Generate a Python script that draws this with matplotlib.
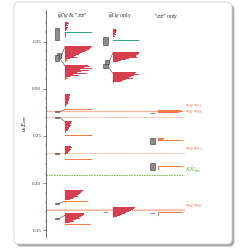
import matplotlib
matplotlib.use("Agg")
import matplotlib.pyplot as plt
from matplotlib.patches import FancyBboxPatch, Rectangle
from matplotlib.ticker import MultipleLocator

plt.rcParams['font.family'] = ['Liberation Serif', 'DejaVu Serif']
plt.rcParams['mathtext.fontset'] = 'stix'

# column headers
headers = [r'$\bar{\psi}\Gamma\psi$ & "$\pi\pi$"', r'$\bar{\psi}\Gamma\psi$ only', r'"$\pi\pi$" only']

# energy levels (a_t E_cm) and errors for each operator basis
col1_E = [0.3578, 0.3350, 0.3325, 0.2757, 0.2697, 0.2315, 0.1788, 0.1629]
col1_err = [0.0067, 0.0028, 0.0028, 0.0003, 0.0003, 0.0003, 0.0003, 0.0003]
col2_E = [0.3504, 0.3285, 0.3240, 0.1696]
col2_err = [0.0046, 0.0020, 0.0023, 0.0003]
col3_E = [0.2743, 0.2446, 0.2175, 0.1685]
col3_err = [0.0004, 0.0033, 0.0037, 0.0003]

# thresholds
thr_E = [0.2767, 0.2704, 0.2315, 0.1714]
thr_labels = [r'$\pi_{110}\,\pi_{011}$', r'$\pi_{001}\,\pi_{000}$',
              r'$\pi_{010}\,\pi_{011}$', r'$\pi_{000}\,\pi_{001}$']
kk_E = 0.2085

# operator overlap histograms: r = psibar Gamma psi, o = pi pi, g = K Kbar, '-' = gap
hist_col = [1, 1, 1, 1, 1, 1, 1, 1, 2, 2, 2, 2, 3, 3, 3, 3]
hist_level = [0, 1, 2, 3, 4, 5, 6, 7, 0, 1, 2, 3, 0, 1, 2, 3]
hist_kinds = [
    "rrrrrrrrr-grrrr",
    "rrrrrrrrrrrrrooo",
    "rrrrrrrrrrrrooo",
    "rrrrrrrrrrrgg--o",
    "rrrrrrrrrgg--o",
    "rrrrrrrrg----o",
    "rrrrrrrrrr-oo",
    "rrrrrrrrrr-o",
    "rrrrrrrr---g",
    "rrrrrrrrrr",
    "rrrrrrrrrrg",
    "rrrrrrrrrr",
    "ooo",
    "ooo",
    "oooo",
    "oooo",
]
hist_w = [
    [0.10, 0.14, 0.08, 0.12, 0.05, 0.10, 0.06, 0.08, 0.05, 0, 1.00, 0.04, 0.05, 0.03, 0.03],
    [1.00, 0.97, 0.93, 0.88, 0.82, 0.75, 0.62, 0.55, 0.50, 0.42, 0.32, 0.45, 0.20, 0.06, 0.10, 0.05],
    [0.85, 0.92, 0.70, 1.00, 0.55, 0.90, 0.60, 0.45, 0.80, 0.30, 0.50, 0.20, 0.08, 0.10, 0.05],
    [0.17, 0.18, 0.16, 0.17, 0.15, 0.16, 0.14, 0.12, 0.10, 0.12, 0.08, 0.04, 0.03, 0, 0, 1.00],
    [0.25, 0.22, 0.24, 0.20, 0.22, 0.18, 0.15, 0.12, 0.10, 0.05, 0.03, 0, 0, 1.00],
    [0.24, 0.25, 0.20, 0.22, 0.18, 0.15, 0.12, 0.10, 0.04, 0, 0, 0, 0, 1.00],
    [0.67, 0.64, 0.60, 0.55, 0.50, 0.45, 0.48, 0.35, 0.30, 0.20, 0, 0.85, 0.05],
    [0.70, 0.72, 0.65, 0.60, 0.50, 0.55, 0.40, 0.30, 0.35, 0.20, 0, 0.96],
    [0.10, 0.15, 0.10, 0.12, 0.08, 0.10, 0.05, 0.06, 0, 0, 0, 1.00],
    [1.00, 1.00, 0.95, 0.90, 0.88, 0.92, 0.60, 0.50, 0.30, 0.20],
    [0.90, 0.85, 1.00, 0.80, 0.70, 0.60, 0.75, 0.50, 0.40, 0.30, 0.03],
    [0.85, 0.82, 0.78, 0.70, 0.60, 0.50, 0.45, 0.35, 0.25, 0.15],
    [0.90, 1.00, 0.85],
    [0.25, 0.20, 1.00],
    [1.00, 0.05, 0.05, 0.05],
    [1.00, 0.05, 0.05, 0.05],
]
# layout: top of each histogram and where the connector from the level lands
hist_top = [0.3699, 0.3444, 0.3242, 0.2934, 0.2648, 0.2393, 0.1926, 0.1682,
            0.3624, 0.3380, 0.3168, 0.1746, 0.2767, 0.2478, 0.2180, 0.1693]
hist_link = [None, 0.3444, 0.3242, 0.2780, 0.2651, None, 0.1809, 0.1661,
             None, 0.3380, 0.3160, None, None, None, None, None]

colors = {'r': '#d6404e', 'o': '#f37a45', 'g': '#3aa387'}
box_x = {1: 55, 2: 103, 3: 150}
box_dx = {1: [0, 2, 0, 0, 0, 0, 0, 0], 2: [0, 1.5, 0, 0], 3: [0, 0, 0, 0]}
hist_x0 = {1: 65, 2: 113, 3: 158}
hist_len = {1: 27, 2: 26, 3: 25}
row = 0.00106
box_w = 4.5

fig = plt.figure(figsize=(2.53, 2.49), dpi=100)

# rounded frame with shadow
fig.patches.append(FancyBboxPatch((0.064, 0.010), 0.862, 0.972, boxstyle='round,pad=0,rounding_size=0.02',
                                  transform=fig.transFigure, fc='#a8a8a8', ec='none', zorder=0))
fig.patches.append(FancyBboxPatch((0.055, 0.02), 0.862, 0.972, boxstyle='round,pad=0,rounding_size=0.02',
                                  transform=fig.transFigure, fc='white', ec='#cfcfcf', lw=0.6, zorder=1))

ax = fig.add_axes([46 / 253, 0.048, 184 / 253, 0.912])
ax.set_zorder(5)
ax.set_facecolor('none')
ax.set_xlim(46, 230)
ax.set_ylim(0.143, 0.3834)
for s in ['top', 'right', 'bottom']:
    ax.spines[s].set_visible(False)
ax.spines['left'].set_linewidth(0.5)
ax.spines['left'].set_color('#333333')
ax.set_xticks([])
ax.yaxis.set_major_locator(MultipleLocator(0.05))
ax.yaxis.set_minor_locator(MultipleLocator(0.01))
ax.tick_params(axis='y', which='major', labelsize=3.6, length=2, width=0.4, pad=1.5, colors='#333333')
ax.tick_params(axis='y', which='minor', length=1, width=0.3, colors='#333333')
ax.yaxis.set_major_formatter(plt.FuncFormatter(lambda v, p: f'{v:.2f}'))
ax.set_ylabel(r'$a_t\,E_{\mathsf{cm}}$', fontsize=4.5, labelpad=2)

# headers
for i, h in enumerate(headers):
    ax.text([72, 120, 166][i], 0.3762, h, fontsize=4.2, ha='center', va='center', color='#333333')

# thresholds
for e, lab in zip(thr_E, thr_labels):
    ax.plot([46, 184], [e, e], color='#f4a08a', lw=0.6, ls=(0, (2, 1)), zorder=2)
    ax.text(185, e + 0.0004, lab, fontsize=3.5, color='#ee5a3a', ha='left', va='bottom')
ax.plot([46, 184], [thr_E[0], thr_E[0]], color='#fbd2c6', lw=1.0, zorder=1)
ax.plot([46, 184], [thr_E[3], thr_E[3]], color='#fbd2c6', lw=1.6, zorder=1)
ax.plot([46, 184], [kk_E, kk_E], color='#6bb343', lw=0.6, ls=(0, (2, 1)), zorder=2)
ax.text(185, kk_E + 0.0003, r'$K\bar{K}|_{\rm thr.}$', fontsize=4.4, color='#6bb343', ha='left', va='bottom')

# levels
levels = {1: (col1_E, col1_err), 2: (col2_E, col2_err), 3: (col3_E, col3_err)}
for c, (E, err) in levels.items():
    for e, de, dx in zip(E, err, box_dx[c]):
        ax.add_patch(Rectangle((box_x[c] + dx, e - de), box_w, 2 * de, fc='#8c8c8c', ec='#3a3a3a', lw=0.4, zorder=4))

# histograms
for k in range(len(hist_kinds)):
    c = hist_col[k]
    x0 = hist_x0[c]
    top = hist_top[k]
    n = len(hist_kinds[k])
    ax.plot([x0, x0], [top + 0.5 * row, top - (n - 0.5) * row], color='#d8d8d8', lw=0.4, zorder=2)
    for j, (kind, w) in enumerate(zip(hist_kinds[k], hist_w[k])):
        if kind == '-' or w == 0:
            continue
        y = top - j * row
        ax.barh(y, w * hist_len[c] * 1.06, left=x0, height=row, color='#e8e8e8', lw=0, zorder=2)
        ax.barh(y, w * hist_len[c], left=x0, height=row, color=colors[kind], lw=0, zorder=3)
    if hist_link[k] is not None:
        lv = hist_level[k]
        e = levels[c][0][lv]
        ax.plot([box_x[c] + box_dx[c][lv] + box_w, x0], [e, hist_link[k]], color='#444444', lw=0.4, zorder=3)

fig.savefig('out.png', dpi=100)
